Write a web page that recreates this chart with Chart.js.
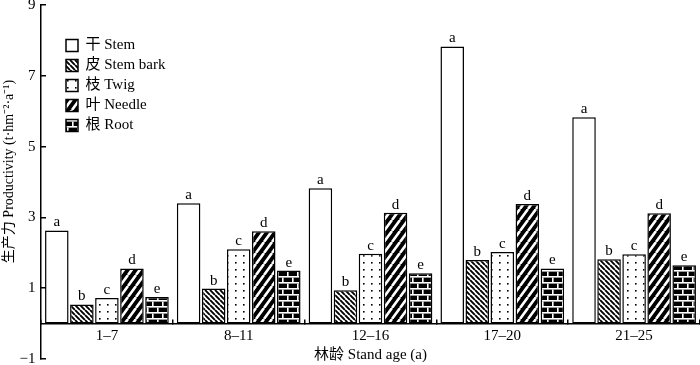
<!DOCTYPE html>
<html><head><meta charset="utf-8">
<script src="https://cdn.jsdelivr.net/npm/chart.js@4/dist/chart.umd.min.js"></script>
<style>html,body{margin:0;padding:0;background:#fff}#wrap{width:700px;height:365px;position:relative}</style>
</head><body><div id="wrap"><canvas id="c"></canvas></div>
<script>
// ---- data ----
const categories = ['1–7', '8–11', '12–16', '17–20', '21–25'];
const seriesNames = ['干 Stem', '皮 Stem bark', '枝 Twig', '叶 Needle', '根 Root'];
const stemValues = [2.63, 3.40, 3.82, 7.83, 5.83];
const barkValues = [0.54, 0.99, 0.94, 1.80, 1.82];
const twigValues = [0.72, 2.10, 1.97, 2.02, 1.96];
const needleValues = [1.56, 2.61, 3.13, 3.38, 3.12];
const rootValues = [0.75, 1.50, 1.42, 1.56, 1.65];
const sigLetters = ['a', 'b', 'c', 'd', 'e'];
const yMin = -1, yMax = 9, yStep = 2;
const xTitle = '林龄 Stand age (a)';
const yTitle = '\u3000\u2002生产力 Productivity (t·hm⁻²·a⁻¹)';

const seriesValues = [stemValues, barkValues, twigValues, needleValues, rootValues];
const SERIF = "'Liberation Serif', 'Times New Roman', 'Noto Sans CJK SC', serif";

const canvas = document.getElementById('c');
const mainCtx = canvas.getContext('2d');

function tile(w, h, draw) {
  const t = document.createElement('canvas');
  t.width = w; t.height = h;
  const g = t.getContext('2d');
  draw(g, w, h);
  return mainCtx.createPattern(t, 'repeat');
}
function diag(g, w, h, dir) {
  g.beginPath();
  for (let k = -1; k <= 1; k++) {
    if (dir === 'back') { g.moveTo(k * w, 0); g.lineTo(k * w + w, h); }
    else { g.moveTo(k * w, h); g.lineTo(k * w + w, 0); }
  }
  g.stroke();
}
const patterns = [
  '#ffffff',
  tile(5, 5, (g, w, h) => { g.fillStyle = '#fff'; g.fillRect(0, 0, w, h); g.strokeStyle = '#000'; g.lineWidth = 1.9; diag(g, w, h, 'back'); }),
  tile(8, 7, (g, w, h) => { g.fillStyle = '#fff'; g.fillRect(0, 0, w, h); g.fillStyle = '#000'; g.fillRect(3, 3, 1.6, 1.6); }),
  tile(8, 11, (g, w, h) => { g.fillStyle = '#000'; g.fillRect(0, 0, w, h); g.strokeStyle = '#fff'; g.lineWidth = 2.6; diag(g, w, h, 'fwd'); }),
  tile(10, 12, (g, w, h) => {
    g.fillStyle = '#000'; g.fillRect(0, 0, w, h);
    g.fillStyle = '#fff';
    g.fillRect(0, 0, w, 1.6); g.fillRect(0, 6, w, 1.6);
    g.fillRect(2, 1.6, 1.6, 4.4); g.fillRect(7, 7.6, 1.6, 4.4);
  })
];

Chart.defaults.font.family = SERIF;
Chart.defaults.color = '#000';

const letterPlugin = {
  id: 'sigLetters',
  afterDatasetsDraw(chart) {
    const ctx = chart.ctx;
    ctx.save();
    ctx.font = '15px ' + SERIF;
    ctx.fillStyle = '#000';
    ctx.textAlign = 'center';
    ctx.textBaseline = 'alphabetic';
    chart.data.datasets.forEach((ds, i) => {
      chart.getDatasetMeta(i).data.forEach(el => {
        ctx.fillText(sigLetters[i], el.x, el.y - 4);
      });
    });
    ctx.restore();
  }
};
const legendPlace = {
  id: 'legendPlace',
  afterUpdate(chart) {
    const l = chart.legend; if (!l) return;
    const w = l.right - l.left, h = l.bottom - l.top;
    l.left = chart.chartArea.left + 20; l.right = l.left + w;
    l.top = chart.chartArea.top + 28; l.bottom = l.top + h;
  }
};

new Chart(canvas, {
  type: 'bar',
  data: {
    labels: categories,
    datasets: seriesNames.map((name, i) => ({
      label: name,
      data: seriesValues[i],
      backgroundColor: patterns[i],
      borderColor: '#000',
      borderWidth: 1.5,
      borderSkipped: false,
      categoryPercentage: 0.95,
      barPercentage: 0.94
    }))
  },
  options: {
    responsive: true,
    maintainAspectRatio: false,
    devicePixelRatio: 1,
    animation: false,
    layout: { padding: { top: 5, bottom: 6, left: 0, right: 0 } },
    plugins: {
      tooltip: { enabled: false },
      legend: {
        position: 'chartArea',
        align: 'start',
        labels: { boxWidth: 12, boxHeight: 12, padding: 5, color: '#000', font: { family: SERIF, size: 15 } }
      }
    },
    scales: {
      x: {
        type: 'category',
        position: { y: 0 },
        offset: true,
        grid: { offset: true, drawOnChartArea: false, drawTicks: true, tickLength: -5, color: '#000', lineWidth: 1.5 },
        border: { display: true, color: '#000', width: 1.5 },
        ticks: { color: '#000', font: { family: SERIF, size: 15 }, padding: 8, maxRotation: 0, autoSkip: false },
        title: { display: true, text: xTitle, color: '#000', font: { family: SERIF, size: 15 }, padding: { top: -7, bottom: 0 } }
      },
      y: {
        position: 'left',
        min: yMin, max: yMax,
        ticks: { stepSize: yStep, color: '#000', font: { family: SERIF, size: 15 }, padding: 10.5,
          callback: v => String(v).replace('-', '\u2212') },
        grid: { drawOnChartArea: false, drawTicks: true, tickLength: -5, color: '#000', lineWidth: 1.5 },
        border: { display: true, color: '#000', width: 1.5 },
        title: { display: true, text: yTitle, color: '#000', font: { family: SERIF, size: 14 }, padding: { top: 1, bottom: 0 } },
        afterFit(s) { s.width = 41; s.paddingTop = 0; s.paddingBottom = 0; }
      }
    }
  },
  plugins: [letterPlugin, legendPlace]
});
</script>
</body></html>
